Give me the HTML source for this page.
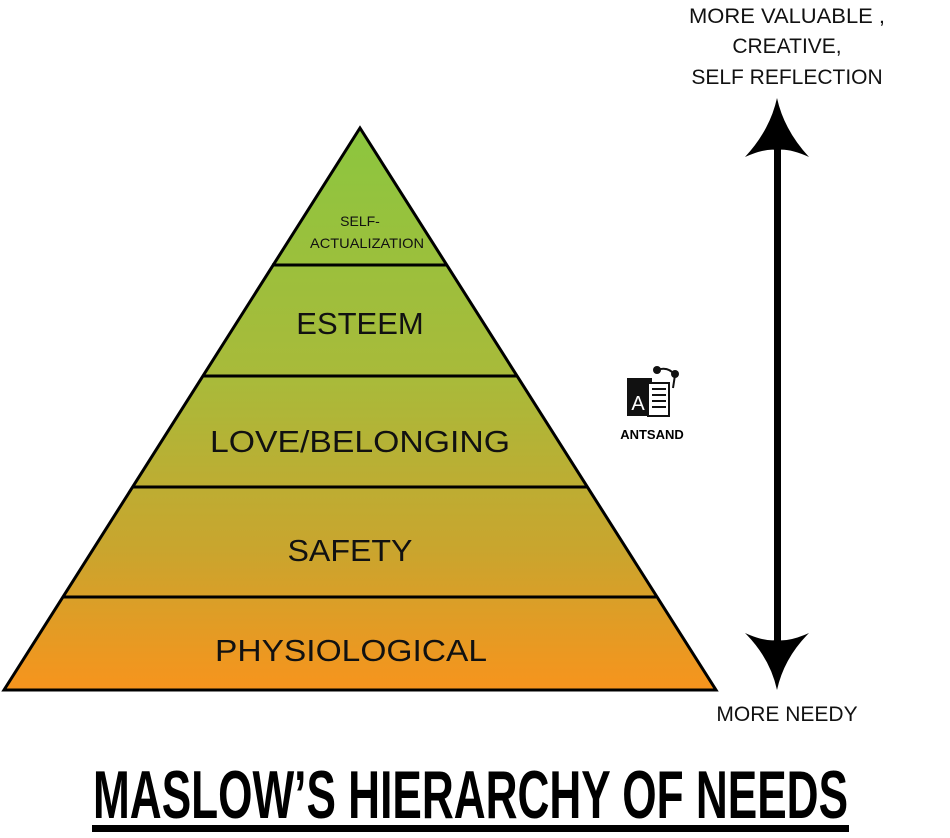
<!DOCTYPE html>
<html><head><style>body{margin:0;background:#fff}svg{display:block}</style></head><body>
<svg width="950" height="838" viewBox="0 0 950 838" xmlns="http://www.w3.org/2000/svg">
<defs><linearGradient id="g" x1="0" y1="128" x2="0" y2="690" gradientUnits="userSpaceOnUse">
<stop offset="0" stop-color="#8cc63f"/><stop offset="0.45" stop-color="#a9ba3a"/><stop offset="0.75" stop-color="#c9a52e"/><stop offset="1" stop-color="#f7941d"/></linearGradient></defs>
<polygon points="360,128 716,690 4,690" fill="url(#g)" stroke="#000" stroke-width="3" stroke-linejoin="miter"/>
<g stroke="#000" stroke-width="3">
<line x1="272" y1="265" x2="447" y2="265"/>
<line x1="202" y1="376" x2="517" y2="376"/>
<line x1="132" y1="487" x2="587" y2="487"/>
<line x1="62" y1="597" x2="656" y2="597"/>
</g>
<g font-family="Liberation Sans, sans-serif" text-anchor="middle" fill="#111">
<text x="360" y="226" font-size="14">SELF-</text>
<text x="367" y="248" font-size="14" textLength="114" lengthAdjust="spacingAndGlyphs">ACTUALIZATION</text>
<text x="360" y="334" font-size="31">ESTEEM</text>
<text x="360" y="452" font-size="31" textLength="300" lengthAdjust="spacingAndGlyphs">LOVE/BELONGING</text>
<text x="350" y="561" font-size="31" textLength="125" lengthAdjust="spacingAndGlyphs">SAFETY</text>
<text x="351" y="661" font-size="31" textLength="272" lengthAdjust="spacingAndGlyphs">PHYSIOLOGICAL</text>
<text x="787" y="23" font-size="21" textLength="196" lengthAdjust="spacingAndGlyphs">MORE VALUABLE ,</text>
<text x="787" y="53" font-size="21">CREATIVE,</text>
<text x="787" y="84" font-size="21">SELF REFLECTION</text>
<text x="787" y="721" font-size="21">MORE NEEDY</text>
</g>
<rect x="774" y="140" width="7" height="510" fill="#000"/>
<path d="M777,98 Q770,130 745,157 Q765,148 777,150 Q789,148 809,157 Q784,130 777,98Z" fill="#000"/>
<path d="M777,690 Q770,658 745,633 Q765,642 777,640 Q789,642 809,633 Q784,658 777,690Z" fill="#000"/>
<!-- logo -->
<rect x="627" y="378" width="25" height="38" fill="#111"/>
<text x="638" y="410" font-family="Liberation Sans, sans-serif" font-size="20" fill="#fff" text-anchor="middle">A</text>
<rect x="648" y="383" width="21" height="33" fill="#fff" stroke="#111" stroke-width="2"/>
<g stroke="#111" stroke-width="2"><line x1="652" y1="389" x2="666" y2="389"/><line x1="652" y1="395" x2="666" y2="395"/><line x1="652" y1="401" x2="666" y2="401"/><line x1="652" y1="407" x2="666" y2="407"/><path d="M657,370 Q668,366 675,375 L673,388" fill="none"/></g>
<circle cx="657" cy="370" r="4" fill="#111"/><circle cx="675" cy="374" r="4" fill="#111"/>
<text x="652" y="439" font-family="Liberation Sans, sans-serif" font-weight="bold" font-size="13" text-anchor="middle" fill="#000">ANTSAND</text>
<text x="0" y="0" font-family="Liberation Sans, sans-serif" font-weight="bold" font-size="68" fill="#000" transform="translate(93,818) scale(0.66,1)" textLength="1144" lengthAdjust="spacingAndGlyphs">MASLOW’S HIERARCHY OF NEEDS</text>
<rect x="92" y="825" width="757" height="7" fill="#000"/>
</svg>
</body></html>
